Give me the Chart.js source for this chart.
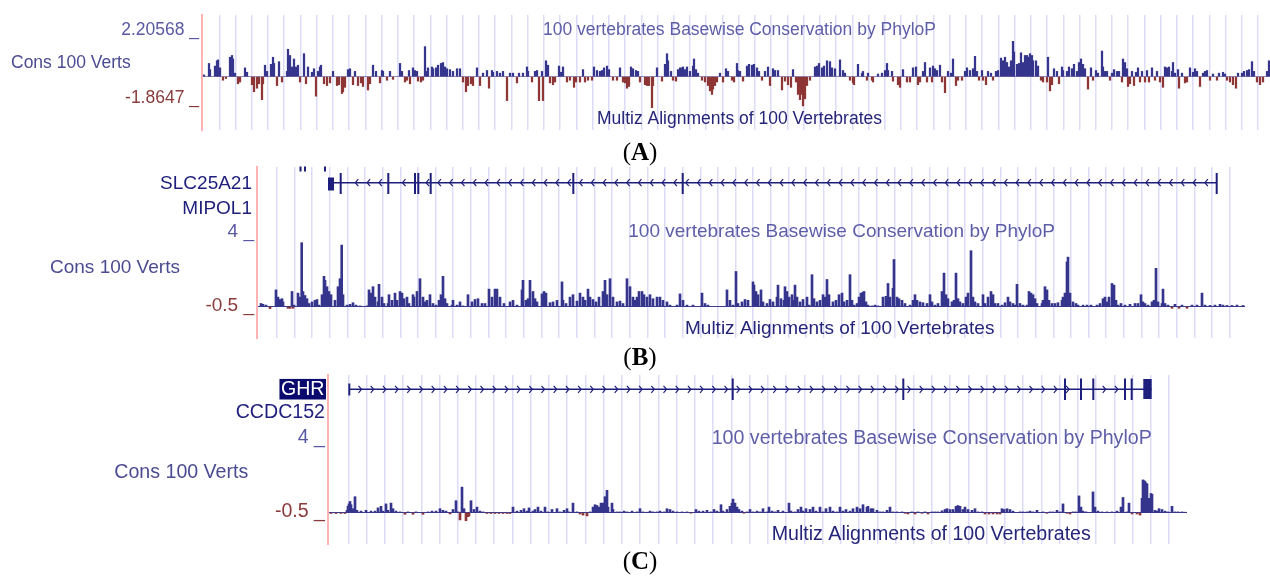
<!DOCTYPE html>
<html>
<head>
<meta charset="utf-8">
<title>100 vertebrates Basewise Conservation by PhyloP</title>
<script src="https://cdn.jsdelivr.net/npm/chart.js@4.4.1/dist/chart.umd.min.js"></script>
<style>
  body { margin: 0; background: #fff; }
  #page { position: relative; width: 1270px; height: 576px; overflow: hidden; }
  canvas { position: absolute; left: 0; }
  .cap { position: absolute; left: 540px; width: 200px; text-align: center;
         font: 25px "Liberation Serif", "Times New Roman", serif; line-height: 26px; color: #000; }
</style>
</head>
<body>
<div id="page">
  <canvas id="panelA" width="1270" height="140" style="top:0px"></canvas>
  <div class="cap" style="top:139px">(<b>A</b>)</div>
  <canvas id="panelB" width="1270" height="185" style="top:160px"></canvas>
  <div class="cap" style="top:344px">(<b>B</b>)</div>
  <canvas id="panelC" width="1270" height="180" style="top:370px"></canvas>
  <div class="cap" style="top:548px">(<b>C</b>)</div>
</div>
<script>
// PhyloP scores, [bin, score] (bin = 1 screen column of the track)
const consA = [[2,0.1],[7,0.75],[8,0.4],[13,0.6],[15,0.9],[16,0.95],[18,0.5],[21,-0.2],[24,-0.1],[28,1.1],[30,1.2],[31,1.0],[33,0.2],[36,-0.4],[38,-0.3],[43,0.5],[45,0.25],[50,-0.45],[52,-0.85],[55,-0.65],[57,-0.4],[60,-1.3],[61,-0.4],[63,0.65],[65,0.3],[69,0.7],[71,1.1],[72,0.75],[75,-0.5],[77,0.85],[80,-0.3],[85,0.3],[86,1.55],[88,1.2],[90,0.55],[92,1.0],[94,0.55],[96,0.65],[98,-0.3],[102,1.3],[104,-0.4],[106,0.55],[110,0.25],[112,0.45],[114,-1.1],[116,0.3],[118,0.55],[119,0.65],[122,-0.4],[125,-0.5],[128,-0.35],[131,0.3],[135,-0.5],[137,-0.45],[140,-0.95],[141,-0.85],[143,-0.6],[146,0.4],[148,0.45],[151,-0.45],[153,0.3],[156,-0.5],[159,-0.35],[161,-0.55],[166,-0.75],[168,-0.4],[171,0.65],[174,0.3],[178,-0.35],[180,0.35],[181,0.3],[185,-0.2],[188,0.3],[191,-0.15],[198,0.75],[200,0.3],[203,-0.3],[205,-0.2],[207,0.35],[208,-0.4],[211,0.5],[213,0.35],[215,0.3],[216,-0.25],[219,-0.3],[221,-0.2],[223,1.7],[225,0.3],[226,0.5],[230,0.55],[231,0.45],[234,0.5],[236,0.65],[239,0.75],[241,0.8],[243,0.55],[245,0.45],[248,0.4],[251,0.3],[255,0.45],[258,0.45],[261,-0.3],[264,-0.85],[266,-0.5],[269,-0.4],[271,-0.5],[275,0.5],[278,-0.5],[281,0.2],[285,0.35],[287,-0.65],[290,0.35],[291,0.25],[295,0.3],[298,0.2],[301,0.3],[305,-1.35],[308,0.2],[311,0.2],[315,-0.35],[317,0.2],[321,0.2],[325,0.55],[326,0.3],[330,-0.3],[333,0.3],[335,0.35],[337,-1.35],[340,0.3],[341,-1.35],[344,0.9],[346,0.65],[348,-0.35],[351,-0.45],[353,-0.3],[357,0.6],[359,0.25],[361,0.55],[365,-0.3],[368,-0.2],[372,-0.6],[374,-0.3],[378,-0.3],[381,0.4],[383,-0.3],[386,-0.2],[390,-0.2],[392,0.55],[395,0.35],[398,0.3],[400,0.35],[402,0.5],[405,0.6],[407,0.4],[411,-0.2],[415,-0.2],[418,0.5],[421,-0.3],[423,-0.35],[425,-0.65],[427,-0.55],[429,0.55],[431,0.45],[434,0.35],[436,0.3],[438,-0.3],[443,-0.45],[445,-0.5],[447,-0.5],[450,-1.75],[451,-0.5],[455,0.5],[460,-0.25],[463,0.7],[465,1.3],[466,0.9],[469,0.3],[471,-0.2],[474,-0.25],[476,0.4],[478,0.5],[480,0.5],[481,0.55],[483,0.4],[485,0.55],[488,0.3],[491,0.6],[492,1.0],[494,0.4],[496,0.2],[500,-0.2],[503,-0.3],[506,-0.5],[508,-0.8],[510,-1.0],[511,-0.7],[513,-0.5],[515,-0.3],[518,0.2],[521,-0.3],[524,0.45],[526,0.3],[530,-0.2],[532,-0.3],[535,0.75],[536,0.35],[538,0.3],[541,-0.25],[545,0.6],[547,0.7],[550,0.65],[552,0.7],[555,0.5],[557,0.3],[560,-0.2],[563,0.3],[566,0.55],[568,-0.5],[571,0.45],[573,0.35],[576,0.35],[580,-0.75],[583,-0.25],[586,-0.45],[589,-0.6],[591,0.4],[594,-0.3],[596,-1.0],[598,-1.3],[600,-1.0],[601,-1.65],[603,-1.25],[605,-0.5],[608,-0.2],[613,0.55],[615,0.6],[617,0.75],[620,0.5],[622,0.6],[625,0.9],[628,0.85],[630,0.5],[633,0.45],[638,0.95],[641,0.35],[643,0.2],[648,-0.2],[651,-0.35],[652,-0.45],[656,0.7],[660,0.2],[661,0.3],[665,-0.2],[666,0.2],[670,-0.2],[671,-0.3],[676,0.15],[680,0.2],[683,0.35],[685,0.75],[686,0.35],[690,0.3],[691,-0.25],[696,-0.45],[698,-0.6],[701,0.4],[705,-0.3],[708,-0.3],[711,0.5],[714,0.55],[716,-0.45],[718,-0.3],[721,0.3],[723,0.8],[725,-0.3],[728,0.5],[730,-0.3],[731,0.6],[733,0.45],[735,0.35],[738,0.65],[740,-0.3],[743,-0.9],[746,0.3],[749,0.2],[751,1.0],[754,-0.5],[756,-0.2],[760,-0.2],[763,0.3],[765,0.5],[768,0.35],[771,0.45],[773,1.15],[775,0.3],[777,-0.2],[780,0.35],[781,-0.2],[784,-0.45],[786,0.3],[789,0.2],[791,-0.2],[794,0.3],[796,0.35],[799,1.05],[801,0.9],[803,1.1],[805,0.8],[807,0.55],[809,0.9],[811,2.0],[812,1.4],[815,0.7],[817,0.75],[819,1.35],[821,0.8],[823,1.2],[825,1.2],[826,1.1],[828,1.3],[830,1.2],[831,0.9],[834,0.9],[836,0.6],[839,-0.2],[841,-0.3],[845,-0.3],[846,1.1],[848,-0.8],[850,-0.45],[852,0.45],[855,0.3],[857,-0.4],[860,0.55],[861,0.35],[865,0.3],[867,0.55],[870,0.45],[872,0.7],[875,0.3],[877,0.8],[879,1.0],[881,0.7],[883,0.45],[886,-0.7],[889,0.5],[891,-0.2],[894,0.35],[896,0.2],[900,1.45],[901,0.55],[903,0.3],[905,0.3],[908,-0.2],[910,0.2],[912,0.4],[915,0.3],[917,0.3],[920,-0.3],[921,1.0],[923,0.8],[925,0.45],[926,-0.55],[928,-0.4],[930,0.3],[932,-0.5],[934,0.25],[936,0.5],[938,-0.3],[940,0.3],[943,-0.3],[945,0.35],[947,-0.3],[950,0.5],[953,-0.2],[955,0.3],[958,-0.3],[961,-0.6],[963,0.55],[965,0.5],[967,0.55],[970,0.3],[971,0.8],[973,0.2],[976,0.4],[977,-0.65],[980,0.2],[983,-0.35],[985,-0.3],[988,0.5],[991,0.25],[993,0.45],[995,0.3],[998,-0.55],[1001,0.2],[1003,0.3],[1005,0.35],[1008,-0.2],[1011,0.15],[1015,-0.2],[1017,0.2],[1021,0.25],[1023,0.15],[1025,-0.2],[1028,-0.3],[1031,-0.45],[1034,-0.65],[1036,0.2],[1040,0.2],[1042,0.3],[1045,0.35],[1047,0.4],[1050,0.85],[1052,0.3],[1055,-0.3],[1058,-0.45],[1061,-0.3],[1065,0.3],[1067,0.9]];

const consB = [[4,0.2],[6,0.15],[9,0.1],[13,-0.12],[19,1.05],[21,0.6],[23,0.45],[25,0.5],[26,0.3],[31,-0.1],[33,-0.1],[35,0.95],[36,-0.1],[37,0.1],[41,0.85],[43,0.6],[44.7,4.0],[46,0.95],[48,0.7],[50,0.5],[52,0.2],[55,0.3],[58,0.4],[60,0.45],[62,0.1],[65,0.75],[67,1.9],[68,1.65],[70,1.25],[72,0.95],[74,0.75],[78,0.4],[81,1.25],[83,1.75],[84.7,3.85],[86,0.75],[90,0.1],[93,0.15],[96,0.25],[99,0.1],[103,0.05],[110,0.05],[112,1.05],[114,0.85],[116,1.25],[118,0.6],[121,0.3],[122,1.4],[125,0.6],[127,0.2],[131,0.2],[132,0.75],[135,0.4],[138,0.85],[140,0.4],[143,0.95],[145,0.85],[147,0.5],[150,0.6],[152,0.2],[156,0.75],[157,0.6],[160,0.95],[163,1.75],[166,0.6],[168,0.3],[170,0.4],[173,0.75],[176,0.2],[179,0.1],[182,0.4],[184,0.75],[186,1.9],[188,0.5],[190,0.2],[195,0.1],[196,0.4],[200,0.1],[203,0.3],[206,0.05],[211,0.75],[215,0.3],[218,0.45],[221,0.5],[225,0.2],[228,0.2],[232,1.1],[235,0.6],[238,1.1],[240,1.1],[243,0.6],[247,0.2],[253,0.3],[256,0.4],[260,0.1],[265,1.05],[266,1.65],[269,0.4],[271,0.5],[273,1.65],[276,0.95],[278,0.5],[280,0.3],[285,0.8],[287,0.95],[289,0.85],[293,0.25],[296,0.3],[300,0.4],[305,1.55],[306,0.4],[309,0.2],[313,0.6],[316,0.75],[320,0.35],[323,0.85],[326,0.6],[328,0.4],[331,1.1],[333,0.6],[336,0.45],[339,0.3],[342,0.6],[346,0.95],[348,1.65],[350,0.75],[353,1.75],[356,0.6],[360,0.3],[363,0.35],[366,0.2],[370,1.75],[373,1.25],[376,0.6],[378,0.4],[380,0.6],[382,0.95],[385,0.95],[387,0.75],[390,0.6],[393,0.75],[396,0.5],[400,0.6],[403,0.6],[406,0.4],[410,0.3],[413,0.1],[420,0.1],[423,0.8],[426,0.4],[430,0.1],[436,0.1],[445,0.85],[448,0.2],[451,0.1],[470,1.05],[473,0.4],[476,0.1],[479,2.2],[481,0.2],[485,0.3],[488,0.45],[491,0.4],[496,1.55],[497,1.35],[499,0.95],[501,0.75],[504,1.05],[506,0.3],[510,0.2],[513,0.45],[516,0.3],[520,0.6],[521,1.35],[524,0.5],[527,0.4],[528,1.25],[530,0.95],[532,0.6],[535,0.75],[537,0.4],[538,1.35],[540,0.6],[543,0.3],[546,0.45],[550,0.6],[552,0.1],[555,2.0],[557,0.5],[560,0.3],[563,0.4],[566,0.75],[568,0.6],[570,1.7],[572,0.75],[576,0.3],[579,0.4],[582,0.75],[585,0.85],[587,0.3],[590,0.4],[593,2.0],[595,0.4],[597,0.1],[600,0.2],[602,0.6],[604,0.85],[606,0.9],[607,0.95],[609,0.3],[611,0.1],[615,0.05],[618,0.1],[621,0.05],[626,0.6],[629,0.65],[631,1.45],[633,0.6],[636,1.15],[637,2.95],[640,0.6],[642,0.5],[645,0.4],[648,0.2],[653,0.1],[656,0.4],[658,0.75],[660,0.4],[663,0.3],[666,0.25],[670,0.2],[673,0.75],[675,0.3],[678,0.1],[681,0.2],[685,0.95],[687,2.1],[689,0.75],[691,0.5],[695,0.3],[697,0.4],[699,2.1],[701,0.5],[703,0.3],[706,0.2],[709,0.6],[711,0.85],[714,3.5],[716,0.6],[718,0.3],[721,0.2],[726,0.75],[728,0.2],[731,0.6],[734,0.95],[736,0.75],[738,0.2],[741,0.2],[745,0.1],[748,0.25],[751,0.6],[753,0.3],[756,0.2],[758,0.1],[760,1.4],[763,0.2],[766,0.1],[770,0.1],[772,0.95],[774,0.85],[776,0.75],[778,0.5],[780,0.2],[785,0.2],[786,0.4],[788,1.25],[790,1.05],[792,0.4],[795,0.2],[798,0.2],[801,0.25],[805,0.4],[806,0.6],[808,0.85],[810,2.8],[811,3.1],[813,0.85],[816,0.3],[819,0.2],[821,0.1],[826,0.1],[830,0.1],[834,0.1],[840,0.1],[843,0.2],[846,0.5],[848,0.6],[850,0.3],[852,0.6],[855,1.45],[857,1.35],[859,0.4],[861,0.1],[864,0.2],[868,0.1],[873,0.15],[878,0.2],[881,0.2],[884,0.75],[886,0.3],[888,0.2],[891,0.1],[895,0.3],[897,0.4],[899,2.4],[901,0.3],[905,0.2],[906,1.1],[908,0.2],[911,0.1],[915,-0.1],[918,0.15],[922,-0.1],[925,0.1],[930,-0.1],[935,0.1],[940,0.1],[945,0.85],[948,0.1],[953,0.08],[958,0.1],[963,0.15],[966,0.1],[970,0.08],[975,0.08],[980,0.1],[986,0.08]];

const consC = [[3,-0.05],[8,-0.05],[13,-0.05],[17,-0.05],[19,0.15],[20,0.4],[21,0.55],[22,0.7],[23,0.5],[25,0.25],[27,1.0],[29,0.15],[33,0.1],[38,0.15],[43,0.1],[47,0.1],[50,0.3],[53,0.4],[55,0.1],[58,0.55],[60,0.15],[63,0.6],[65,0.25],[68,0.1],[72,0.05],[77,-0.1],[80,0.05],[85,-0.1],[88,0.05],[95,-0.1],[100,0.05],[104,0.1],[108,0.1],[112,0.25],[115,0.15],[118,0.1],[122,-0.08],[125,0.2],[128,0.75],[130,0.05],[132,-0.45],[134,1.6],[136,0.25],[138,-0.5],[140,-0.25],[141,-0.2],[143,0.75],[146,0.2],[149,0.35],[152,0.1],[155,0.05],[159,-0.05],[163,-0.05],[167,-0.05],[171,-0.05],[175,-0.05],[179,-0.05],[182,-0.05],[185,0.35],[189,0.1],[193,0.15],[196,0.25],[199,0.1],[201,0.3],[205,0.1],[207,0.2],[210,0.35],[213,0.1],[217,0.35],[220,0.05],[224,0.2],[229,0.25],[232,0.05],[236,0.15],[239,0.25],[241,0.05],[245,0.6],[249,0.05],[252,-0.08],[255,-0.15],[259,-0.2],[262,0.05],[265,0.35],[267,0.5],[269,0.45],[271,0.35],[273,0.6],[275,0.6],[277,1.0],[279,1.4],[280,0.35],[284,0.6],[285,0.2],[289,0.05],[292,0.05],[296,0.1],[299,0.05],[304,0.1],[309,0.05],[312,0.25],[315,0.05],[319,0.02],[322,0.1],[325,0.05],[329,0.05],[332,0.1],[336,0.05],[339,0.25],[342,0.2],[345,0.1],[349,0.05],[354,0.05],[359,0.05],[363,-0.02],[368,0.2],[371,0.1],[375,0.1],[379,0.15],[383,0.05],[386,0.2],[389,0.1],[393,0.5],[395,0.1],[399,0.2],[402,0.4],[404,0.6],[405,0.85],[407,0.6],[409,0.35],[411,0.2],[414,0.1],[416,-0.02],[419,0.05],[422,0.2],[425,0.05],[429,0.1],[432,0.05],[435,0.25],[439,0.05],[441,0.35],[444,0.1],[447,0.05],[450,0.15],[455,0.1],[461,0.6],[463,0.1],[467,0.05],[470,0.2],[473,0.35],[475,0.1],[478,0.25],[482,0.2],[485,0.35],[488,0.1],[492,0.35],[495,0.05],[498,0.25],[502,0.35],[505,0.1],[509,0.05],[512,0.35],[515,0.1],[518,0.2],[522,0.1],[525,0.25],[529,0.35],[532,0.25],[535,0.5],[539,0.35],[540,0.4],[543,0.25],[545,0.25],[549,0.15],[552,0.05],[555,0.05],[559,0.15],[562,0.35],[565,0.05],[569,0.05],[574,0.05],[577,-0.04],[580,-0.08],[584,0.05],[587,-0.08],[590,0.05],[594,-0.04],[597,0.05],[600,-0.08],[604,0.05],[607,0.05],[610,0.05],[614,0.12],[617,0.2],[619,0.25],[622,0.2],[625,0.2],[628,0.4],[630,0.45],[632,0.4],[635,0.2],[637,0.35],[640,0.2],[644,0.15],[647,0.25],[650,0.05],[654,0.05],[657,-0.08],[661,-0.08],[665,-0.08],[669,-0.08],[672,-0.08],[674,0.25],[676,0.2],[679,0.25],[682,0.2],[685,0.1],[692,0.05],[695,0.05],[699,0.05],[702,0.1],[705,0.05],[709,0.15],[715,0.05],[719,-0.04],[722,0.05],[725,0.05],[729,0.15],[732,0.05],[735,0.55],[739,-0.04],[742,-0.08],[745,0.05],[748,0.05],[751,1.05],[753,0.35],[755,0.1],[758,0.05],[765,1.3],[767,0.35],[770,0.1],[774,0.05],[779,0.05],[784,0.05],[789,0.1],[793,0.35],[795,0.95],[799,0.05],[801,0.6],[804,-0.08],[809,-0.08],[812,-0.15],[814,0.9],[815,2.05],[816,2.0],[817,1.95],[818,1.85],[819,1.8],[820,0.9],[821,0.85],[822,0.9],[823,1.2],[824,1.15],[827,0.15],[829,0.1],[831,0.25],[834,0.2],[837,0.1],[840,0.05],[844,0.4],[847,0.05],[850,0.05],[854,0.05],[857,0.02]];

// gene models, in the same bins
const slcExons = [83.7, 131.3, 158, 161.3, 173.7, 316.3, 425.7, 959.7];
const slcUtr = [[71, 77]];
const mipolMarks = [43.5, 48, 68];
const ghrExons = [404.7, 575.3, 737, 753, 765.3, 797, 803.7];
const ghrUtr = [[815.3, 823.7]];
const ghrStart = [21.3];

const POS = '#35358d', NEG = '#8e3535', GRID = '#dcdcf8', PINK = '#ffb3b3';
const NAVY = '#1e1e7c', LAV = '#5959a3', BROWN = '#8a3b3b', TITLE = '#5e5ea8', MULTIZ = '#25257a';
const SANS = '"Liberation Sans", Arial, Helvetica, sans-serif';

function gridTicks(start, step, max) {
  const t = [];
  for (let v = start; v <= max; v += step) t.push({ value: v });
  return t;
}

function drawGene(chart, g, top) {
  const ctx = chart.ctx;
  const px = v => chart.scales.x.getPixelForValue(v);
  const y = g.lineY - top;
  ctx.fillStyle = ctx.strokeStyle = NAVY;
  ctx.lineWidth = 1.5;
  ctx.beginPath(); ctx.moveTo(px(g.start), y); ctx.lineTo(px(g.end), y); ctx.stroke();
  const solid = g.exons.concat(g.blocks.flat());
  ctx.lineWidth = 1.2;
  for (let k = 1; ; k++) {
    const b = g.strand > 0 ? g.start + k * g.step : g.end - k * g.step;
    if (b <= g.start + 2 || b >= g.end - 2) break;
    if (solid.some(e => Math.abs(e - b) < 3)) continue;
    const x = px(b), d = g.strand > 0 ? -3 : 3;
    ctx.beginPath(); ctx.moveTo(x + d, y - 3.5); ctx.lineTo(x, y); ctx.lineTo(x + d, y + 3.5); ctx.stroke();
  }
  g.exons.forEach(e => ctx.fillRect(px(e) - 1, g.exonTop - top, 2, g.exonH));
  g.blocks.forEach(([a, b]) => ctx.fillRect(px(a), g.blockTop - top, px(b) - px(a), g.blockH));
  g.marks.forEach(m => ctx.fillRect(px(m) - 1, g.markTop - top, 2, g.markH));
}

function overlay(top, size, labels, gene) {
  return {
    id: 'overlay',
    afterDraw(chart) {
      const ctx = chart.ctx;
      ctx.save();
      if (gene) drawGene(chart, gene, top);
      ctx.textBaseline = 'middle';
      ctx.font = size + 'px ' + SANS;
      labels.forEach(l => {
        ctx.textAlign = l.align || 'left';
        const y = l.y - top;
        if (l.box) {
          const w = ctx.measureText(l.text).width;
          ctx.fillStyle = l.box;
          ctx.fillRect(l.x - w - 1.5, y - size * 0.55, w + 3, size * 1.05);
        }
        ctx.fillStyle = l.color;
        ctx.fillText(l.text, l.x, y);
      });
      ctx.restore();
    }
  };
}

function panel(id, top, pairs, o) {
  return new Chart(document.getElementById(id), {
    type: 'bar',
    data: {
      datasets: [{
        data: pairs.map(([x, y]) => ({ x, y })),
        backgroundColor: c => (c.raw && c.raw.y < 0) ? NEG : POS,
        barThickness: o.bar,
        borderWidth: 0
      }]
    },
    options: {
      responsive: false,
      animation: false,
      events: [],
      layout: { padding: o.pad },
      plugins: { legend: { display: false }, tooltip: { enabled: false } },
      scales: {
        x: {
          type: 'linear', min: 0, max: o.width, offset: false,
          afterBuildTicks: s => { s.ticks = gridTicks(o.gridStart, o.gridStep, o.width); },
          ticks: { display: false },
          grid: { color: GRID, lineWidth: 1.5, drawTicks: false, offset: false },
          border: { display: false }
        },
        y: {
          type: 'linear', min: o.ymin, max: o.ymax,
          afterBuildTicks: s => { s.ticks = [{ value: 0 }]; },
          ticks: { display: false },
          grid: { color: o.zeroColor, lineWidth: 1, drawTicks: false },
          border: { display: true, color: PINK, width: 2 }
        }
      }
    },
    plugins: [overlay(top, o.font, o.labels, o.gene)]
  });
}

panel('panelA', 0, consA, {
  pad: { left: 202, right: 0, top: 15, bottom: 10 },
  width: 1068, gridStart: 17.3, gridStep: 16.23, bar: 1.6,
  ymin: -3.011, ymax: 3.486, zeroColor: 'rgba(80,60,130,0.6)', font: 17.5,
  labels: [
    { text: '2.20568 _', x: 199, y: 30.5, color: LAV, align: 'right' },
    { text: 'Cons 100 Verts', x: 11, y: 63.5, color: '#4b4b92' },
    { text: '-1.8647 _', x: 199, y: 98.5, color: BROWN, align: 'right' },
    { text: '100 vertebrates Basewise Conservation by PhyloP', x: 543, y: 30.5, color: TITLE },
    { text: 'Multiz Alignments of 100 Vertebrates', x: 597, y: 119.5, color: MULTIZ }
  ]
});

panel('panelB', 160, consB, {
  pad: { left: 257, right: 25, top: 7, bottom: 7 },
  width: 988, gridStart: 19.7, gridStep: 17.65, bar: 2,
  ymin: -1.956, ymax: 8.731, zeroColor: '#3d3d8e', font: 19,
  labels: [
    { text: 'SLC25A21', x: 252, y: 184, color: NAVY, align: 'right' },
    { text: 'MIPOL1', x: 252, y: 208.3, color: NAVY, align: 'right' },
    { text: '4 _', x: 254, y: 232, color: LAV, align: 'right' },
    { text: 'Cons 100 Verts', x: 50, y: 267.3, color: '#4b4b92' },
    { text: '-0.5 _', x: 254, y: 306, color: BROWN, align: 'right' },
    { text: '100 vertebrates Basewise Conservation by PhyloP', x: 628.3, y: 232, color: TITLE },
    { text: 'Multiz Alignments of 100 Vertebrates', x: 685, y: 328.3, color: MULTIZ }
  ],
  gene: { strand: -1, start: 71, end: 959.7, step: 11.8, lineY: 182.7,
          exons: slcExons, exonTop: 173, exonH: 21,
          blocks: slcUtr, blockTop: 177.5, blockH: 13,
          marks: mipolMarks, markTop: 166.5, markH: 5 }
});

panel('panelC', 370, consC, {
  pad: { left: 328, right: 83, top: 5, bottom: 6 },
  width: 859, gridStart: 20.3, gridStep: 18.24, bar: 2,
  ymin: -1.956, ymax: 8.606, zeroColor: '#3d3d8e', font: 19.6,
  labels: [
    { text: 'GHR', x: 324.5, y: 389.7, color: '#ffffff', align: 'right', box: '#0a0a6e' },
    { text: 'CCDC152', x: 325, y: 412.5, color: NAVY, align: 'right' },
    { text: '4 _', x: 325, y: 437.5, color: LAV, align: 'right' },
    { text: 'Cons 100 Verts', x: 114.3, y: 473, color: '#4b4b92' },
    { text: '-0.5 _', x: 325, y: 511.2, color: BROWN, align: 'right' },
    { text: '100 vertebrates Basewise Conservation by PhyloP', x: 711.7, y: 438.3, color: TITLE },
    { text: 'Multiz Alignments of 100 Vertebrates', x: 771.7, y: 535, color: MULTIZ }
  ],
  gene: { strand: 1, start: 21.3, end: 823.7, step: 12.2, lineY: 389.3,
          exons: ghrExons, exonTop: 378.5, exonH: 21.5,
          blocks: ghrUtr, blockTop: 379, blockH: 20,
          marks: ghrStart, markTop: 383.5, markH: 12 }
});
</script>
</body>
</html>
